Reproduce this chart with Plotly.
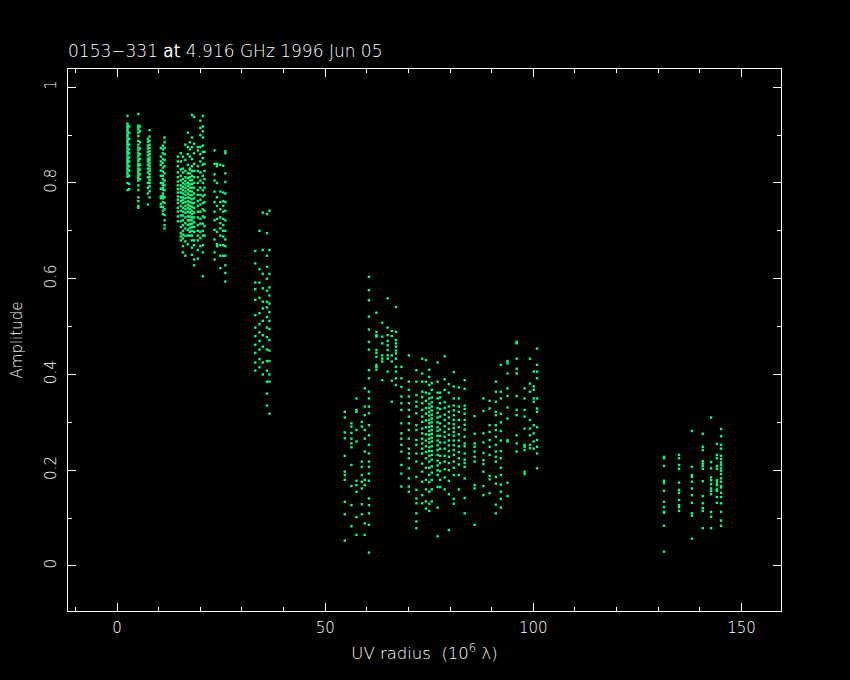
import plotly.graph_objects as go

TITLE = "0153\u2212331 <b>at</b> 4.916 GHz 1996 Jun 05"
X_LABEL = "UV radius  (10<sup>6</sup> \u03bb)"
Y_LABEL = "Amplitude"
X_TICKS = [0, 50, 100, 150]
Y_TICKS = [0, 0.2, 0.4, 0.6, 0.8, 1]

tracks = [
 (2.5, [.94,.924,.920,.916,.912,.908,.903,.899,.895,.890,.886,.882,.878,.873,.868,.864,.860,.855,.850,.846,.842,.837,.832,.828,.823,.818,.813,.800,.785]),
 (2.9, [.918,.905,.892,.880,.870,.862,.853,.845,.835,.826,.815,.798,.787]),
 (5.1, [.944,.920,.916,.912,.905,.898,.888,.880,.874,.868,.862,.857,.851,.846,.840,.835,.830,.825,.820,.815,.810,.805,.795,.785,.770,.762,.752,.748]),
 (5.5, [.918,.908,.885,.872,.860,.850,.838,.828,.818,.808]),
 (7.4, [.892,.886,.878,.872,.865,.858,.850,.845,.838,.830,.822,.812,.800,.790,.778,.755]),
 (7.8, [.910,.897,.888,.880,.873,.866,.860,.853,.848,.842,.836,.830,.825,.818,.812,.806,.800,.793,.783,.770]),
 (10.5, [.873,.855,.845,.838,.826,.815,.800,.788,.772,.768,.756,.750]),
 (11.0, [.878,.870,.862,.850,.842,.832,.824,.815,.808,.800,.796,.790,.786,.778,.773,.768,.760,.750,.742,.735]),
 (11.4, [.895,.885,.873,.860,.848,.835,.820,.805,.795,.785,.770,.758,.745,.733,.722,.712,.705]),
 (14.6, [.855,.845,.835,.822,.812,.803,.795,.787,.780,.772,.765,.758,.748,.740,.730,.720]),
 (15.3, [.862,.845,.828,.815,.805,.795,.788,.780,.770,.762,.752,.742,.732,.720,.708,.695,.688,.680]),
 (15.8, [.855,.830,.822,.808,.800,.792,.785,.778,.770,.765,.758,.748,.740,.732,.722,.712,.700,.692,.684,.668,.655]),
 (16.4, [.880,.848,.825,.812,.804,.797,.790,.782,.775,.768,.760,.752,.745,.738,.728,.716,.705,.690,.678,.648]),
 (17.0, [.905,.875,.860,.838,.820,.810,.800,.794,.786,.778,.770,.762,.755,.748,.740,.730,.722,.712,.702,.690,.672]),
 (17.5, [.885,.870,.855,.830,.828,.820,.812,.805,.797,.790,.783,.775,.768,.760,.752,.745,.738,.730,.722,.714,.706,.698,.690]),
 (18.0, [.942,.895,.875,.850,.835,.825,.815,.806,.798,.790,.782,.774,.766,.758,.750,.742,.735,.728,.722,.715,.708,.700,.690,.680,.665,.650]),
 (18.5, [.938,.882,.862,.840,.825,.812,.800,.790,.778,.768,.758,.748,.738,.728,.718,.708,.698,.680,.670,.640,.628]),
 (19.4, [.875,.868,.835,.825,.812,.800,.785,.775,.762,.752,.740,.728,.712,.700,.690,.680,.660,.642]),
 (20.0, [.930,.915,.900,.875,.860,.845,.822,.805,.790,.775,.765,.755,.740,.725,.715,.698,.685,.668]),
 (20.6, [.940,.918,.908,.895,.878,.865,.852,.838,.815,.800,.785,.772,.758,.745,.730,.715,.700,.690,.670,.655,.605]),
 (21.0, [.865,.840,.825,.808,.790,.775,.760,.742,.728,.710,.690]),
 (23.4, [.868,.840,.818,.805,.782,.760,.740,.722,.702,.682,.655,.640]),
 (24.0, [.840,.835,.800,.770,.752,.725,.698,.672,.668]),
 (24.8, [.838,.782,.760,.745,.728,.716,.705,.690,.670,.648,.622]),
 (25.5, [.836,.780,.762,.752,.740,.725,.712,.700,.688,.670,.648]),
 (26.0, [.866,.862,.820,.802,.778,.760,.742,.722,.700,.682,.668,.648,.628,.612,.594]),
 (33.2, [.658,.632,.592,.578,.556,.524,.498,.480,.462,.445,.425,.408]),
 (34.2, [.700,.620,.592,.560,.528,.505,.488,.470,.452,.432,.415]),
 (35.0, [.738,.660,.610,.580,.552,.538,.512,.482,.458,.425,.400]),
 (36.0, [.735,.695,.648,.625,.600,.575,.552,.540,.520,.498,.478,.452,.428,.408,.385,.360,.335]),
 (36.6, [.742,.660,.610,.582,.565,.548,.530,.512,.495,.472,.450,.428,.400,.385,.318]),
 (54.7, [.322,.310,.279,.267,.230,.197,.190,.180,.134,.108,.053]),
 (56.3, [.298,.291,.278,.266,.256,.248,.211,.167,.127,.083]),
 (57.5, [.350,.326,.322,.284,.260,.178,.169,.155,.102,.065]),
 (58.8, [.301,.291,.218,.207,.190,.176,.162,.129,.108]),
 (59.5, [.371,.333,.315,.284,.266,.239,.180,.169,.089,.065]),
 (60.5, [.604,.576,.555,.521,.494,.468,.452,.409,.392,.364,.350,.333,.319,.294,.273,.253,.235,.218,.207,.193,.178,.141,.127,.110,.086,.028]),
 (62.3, [.529,.489,.482,.479,.451,.445,.437,.420,.416,.410]),
 (63.7, [.508,.479,.465,.440,.433,.427,.388]),
 (65.0, [.559,.498,.482,.470,.461,.451,.440,.433,.406]),
 (66.0, [.491,.480,.440,.427,.387,.343]),
 (67.0, [.541,.489,.472,.465,.458,.450,.444,.433,.416,.406,.392,.378]),
 (68.3, [.416,.392,.374,.354,.340,.326,.298,.277,.266,.253,.239,.211,.193,.166]),
 (70.1, [.440,.385,.368,.354,.340,.326,.312,.298,.284,.266,.245,.235,.225,.204,.183,.166,.155]),
 (71.9, [.409,.385,.357,.343,.333,.319,.294,.284,.263,.253,.235,.218,.186,.159,.141,.131,.110,.093,.079]),
 (73.3, [.433,.402,.385,.364,.353,.340,.326,.312,.301,.287,.277,.266,.256,.245,.235,.214,.197,.176,.148,.131]),
 (74.2, [.430,.385,.362,.345,.330,.318,.304,.290,.275,.262,.250,.238,.225,.205,.180,.160,.135,.120]),
 (75.0, [.410,.395,.378,.360,.350,.338,.330,.322,.314,.305,.298,.290,.282,.274,.266,.258,.248,.240,.230,.218,.205,.190,.175,.155,.130,.115]),
 (75.6, [.382,.368,.352,.342,.333,.325,.316,.308,.300,.292,.284,.276,.268,.260,.250,.240,.232,.222,.208,.195,.180,.160,.135]),
 (77.0, [.425,.385,.362,.350,.330,.320,.310,.300,.290,.282,.272,.262,.252,.242,.232,.220,.210,.200,.190,.165,.122,.062]),
 (77.6, [.362,.352,.340,.328,.312,.298,.285,.272,.258,.245,.230,.215,.198,.180,.165]),
 (78.7, [.438,.390,.368,.342,.330,.316,.305,.292,.280,.270,.258,.245,.230,.218,.202,.185,.160]),
 (79.7, [.380,.362,.333,.322,.310,.298,.286,.274,.262,.252,.240,.228,.215,.200,.178,.150,.075]),
 (80.9, [.405,.375,.350,.335,.325,.315,.305,.296,.288,.280,.272,.262,.252,.242,.232,.218,.205,.190,.140,.130]),
 (82.1, [.373,.350,.333,.322,.305,.290,.275,.262,.250,.238,.225,.212,.190,.160]),
 (83.5, [.388,.370,.335,.328,.318,.305,.295,.285,.270,.256,.250,.235,.222,.215,.207,.183,.142,.110]),
 (85.9, [.313,.276,.256,.249,.239,.228,.218,.169,.162,.086]),
 (88.0, [.350,.324,.277,.258,.236,.221,.213,.197,.167,.148]),
 (89.5, [.345,.329,.294,.280,.263,.249,.232,.188,.181,.152]),
 (91.0, [.385,.364,.343,.322,.315,.294,.284,.270,.253,.239,.228,.218,.186,.172,.128,.110]),
 (92.2, [.420,.364,.350,.318,.300,.282,.262,.240,.225,.205,.190,.170,.155,.140,.122]),
 (93.8, [.428,.423,.402,.371,.355,.331,.308,.263,.260,.174,.146]),
 (96.0, [.468,.465,.433,.412,.402,.355,.326,.315,.273,.256,.239]),
 (97.9, [.371,.350,.326,.312,.287,.253,.249,.242,.197,.192]),
 (99.2, [.433,.381,.364,.305,.287,.273,.253,.246]),
 (100.1, [.406,.375,.368,.350,.343,.294,.277,.260,.245]),
 (100.9, [.454,.420,.406,.392,.350,.329,.322,.290,.263,.249,.235,.204]),
 (131.4, [.228,.225,.209,.178,.173,.157,.134,.123,.113,.111,.084,.030]),
 (135.0, [.232,.225,.211,.203,.174,.159,.153,.138,.127,.123,.115]),
 (138.1, [.282,.207,.190,.186,.176,.162,.148,.132,.110,.105,.057]),
 (140.7, [.276,.249,.242,.219,.214,.209,.203,.177,.146,.131,.121,.115,.079]),
 (142.7, [.310,.217,.204,.185,.179,.171,.162,.157,.150,.113,.103,.079]),
 (144.1, [.255,.232,.225,.209,.203,.179,.174,.169,.160,.157,.144,.132]),
 (145.1, [.286,.271,.253,.245,.230,.223,.216,.211,.204,.199,.192,.183,.176,.167,.164,.153,.144,.131,.113,.095,.084]),
]

uv_radius = [x for x, amps in tracks for _ in amps]
amplitude = [a for _, amps in tracks for a in amps]

WHITE = "#ffffff"
FONT = "DejaVu Sans Light, DejaVu Sans"
axis = dict(
    showgrid=False, zeroline=False, showline=True, linecolor=WHITE, linewidth=1,
    mirror="allticks", ticks="inside", ticklen=8, tickwidth=1, tickcolor=WHITE,
    tickfont=dict(family=FONT, size=15, color=WHITE),
)

fig = go.Figure(go.Scatter(
    x=uv_radius, y=amplitude, mode="markers",
    marker=dict(symbol="square", size=2.4, color="#00ff80", line=dict(width=0)),
))
fig.update_layout(
    width=850, height=680, autosize=False, showlegend=False,
    paper_bgcolor="#000000", plot_bgcolor="#000000",
    margin=dict(l=68, r=69, t=69, b=69),
    title=dict(text=TITLE, x=68/850, xanchor="left", y=1-51/680, yanchor="middle",
               font=dict(family=FONT, size=17, color=WHITE)),
    font=dict(family=FONT, color=WHITE),
)
fig.update_xaxes(**axis, range=[-11.8, 159.5], tickvals=X_TICKS, ticklabelstandoff=3,
                 minor=dict(dtick=10, ticks="inside", ticklen=4, tickcolor=WHITE, tickwidth=1),
                 title=dict(text=X_LABEL, font=dict(family=FONT, size=16.5, color=WHITE), standoff=11))
fig.update_yaxes(**axis, range=[-0.094, 1.038], tickvals=Y_TICKS, tickangle=-90, ticklabelstandoff=5,
                 minor=dict(dtick=0.1, ticks="inside", ticklen=4, tickcolor=WHITE, tickwidth=1),
                 title=dict(text=Y_LABEL, font=dict(family=FONT, size=15, color=WHITE), standoff=15))
fig.write_html("out.html", config={"displayModeBar": False},
               post_script="document.body.style.margin='0';document.body.style.background='#000';")
